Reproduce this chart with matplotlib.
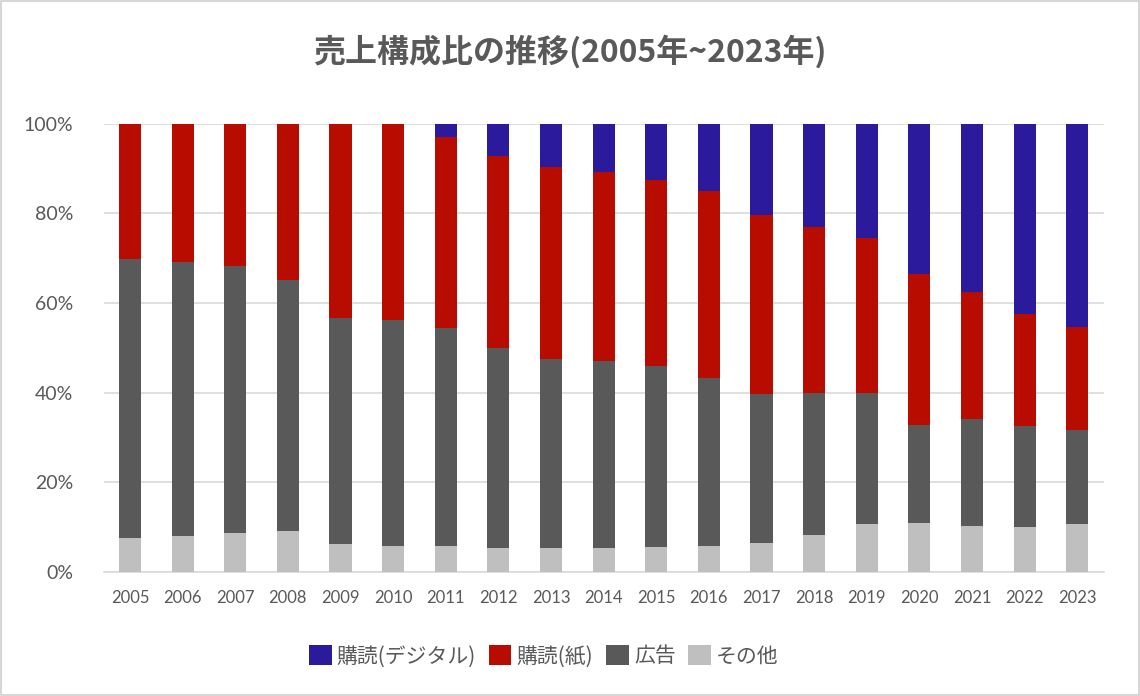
import matplotlib
matplotlib.use('Agg')
import matplotlib.pyplot as plt
from matplotlib.patches import Rectangle

plt.rcParams['font.family'] = ['Noto Sans CJK JP', 'DejaVu Sans']

years = [str(y) for y in range(2005, 2024)]
# 構成比 (%)
other = [7.7, 8.1, 8.7, 9.1, 6.3, 5.8, 5.8, 5.4, 5.4, 5.4, 5.6, 5.9, 6.5, 8.3, 10.8, 10.9, 10.3, 10.0, 10.8]
ads = [62.0, 61.0, 59.6, 56.0, 50.3, 50.3, 48.7, 44.6, 42.2, 41.7, 40.3, 37.4, 33.2, 31.7, 29.2, 22.0, 23.9, 22.6, 20.8]
paper = [30.3, 30.9, 31.7, 34.9, 43.4, 43.9, 42.4, 42.8, 42.7, 42.0, 41.5, 41.7, 39.8, 37.0, 34.5, 33.5, 28.3, 25.0, 23.0]
digital = [0, 0, 0, 0, 0, 0, 3.1, 7.2, 9.7, 10.9, 12.6, 15.0, 20.5, 23.0, 25.5, 33.6, 37.5, 42.4, 45.4]

series = [
    ('その他', other, '#BFBFBF'),
    ('広告', ads, '#595959'),
    ('購読(紙)', paper, '#B80C00'),
    ('購読(デジタル)', digital, '#2B1A9C'),
]

fig = plt.figure(figsize=(11.4, 6.96), dpi=100)
ax = fig.add_axes([0.091, 0.178, 0.877, 0.6445])

x = range(len(years))
bottom = [0] * len(years)
handles = {}
for name, vals, col in series:
    b = ax.bar(x, vals, bottom=bottom, width=0.42, color=col, zorder=3)
    handles[name] = b
    bottom = [p + q for p, q in zip(bottom, vals)]

ax.set_xlim(-0.5, len(years) - 0.5)
ax.set_ylim(0, 100)
ax.set_yticks(range(0, 101, 20))
ax.set_yticklabels([f'{v}%' for v in range(0, 101, 20)], fontsize=14, color='#595959',
                   family=['Lato', 'DejaVu Sans'])
ax.set_xticks(list(x))
ax.set_xticklabels(years, fontsize=12, color='#595959', family=['Lato', 'DejaVu Sans'])
ax.tick_params(axis='x', length=0, pad=13)
ax.tick_params(axis='y', length=0, pad=22)
ax.grid(axis='y', color='#D9D9D9', linewidth=1.2, zorder=0)
for s in ['top', 'right', 'left']:
    ax.spines[s].set_visible(False)
ax.spines['bottom'].set_color('#D9D9D9')
ax.spines['bottom'].set_linewidth(1.2)

fig.text(0.5, 0.925, '売上構成比の推移(2005年~2023年)', ha='center', va='center',
         fontsize=23, fontweight='bold', color='#595959')

order = ['購読(デジタル)', '購読(紙)', '広告', 'その他']
fig.legend([handles[n] for n in order], order, loc='center', bbox_to_anchor=(0.477, 0.057),
           ncol=4, frameon=False, fontsize=15, handlelength=1.1, handleheight=1.1,
           handletextpad=0.25, columnspacing=0.6, labelcolor='#595959')

fig.patches.append(Rectangle((0.001, 0.001), 0.998, 0.998, transform=fig.transFigure,
                             fill=False, edgecolor='#D0D0D0', linewidth=1.2))

fig.savefig('out.png', dpi=100, facecolor='white')
